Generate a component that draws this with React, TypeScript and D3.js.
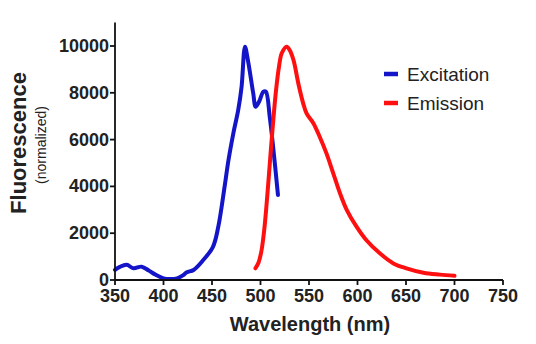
import React from "react";
import * as d3 from "d3";

const excitationNm = [350, 355, 362, 369, 377.5, 385, 392, 400, 407, 414, 420, 424, 431, 441, 451, 456.5, 463, 467, 472, 477, 480.5, 484, 487, 492.5, 495, 498.5, 503, 505.5, 509.5, 513, 518];
const excitationVal = [430, 560, 650, 500, 570, 400, 220, 70, 40, 70, 200, 330, 430, 855, 1420, 2280, 3990, 5130, 6270, 7260, 8260, 9970, 9400, 7980, 7400, 7620, 8050, 8050, 6980, 5700, 3630];

const emissionNm = [494.8, 498, 501, 504, 507, 510, 513, 516, 519, 522, 527, 530, 534, 539, 544, 547.5, 554.5, 561, 568, 575, 582, 589, 599, 609, 623, 637, 650.5, 668, 685, 700];
const emissionVal = [500, 750, 1250, 2200, 3600, 5200, 6750, 8100, 9100, 9700, 9970, 9830, 9400, 8400, 7550, 7120, 6700, 6120, 5410, 4560, 3700, 2990, 2280, 1710, 1140, 710, 500, 310, 230, 180];

const xTicks = [350, 400, 450, 500, 550, 600, 650, 700, 750];
const yTicks = [0, 2000, 4000, 6000, 8000, 10000];
const legendLabels = ["Excitation", "Emission"];
const seriesColors = ["#1414c8", "#ff1010"];

const W = 536;
const H = 344;
const FONT = "'Liberation Sans', Arial, Helvetica, sans-serif";

export default function App() {
  const x = d3.scaleLinear().domain([350, 750]).range([115, 503]);
  const y = d3.scaleLinear().domain([0, 11000]).range([280, 22.6]);

  const line = d3
    .line<[number, number]>()
    .x((d) => x(d[0]))
    .y((d) => y(d[1]))
    .curve(d3.curveCatmullRom.alpha(0.5));

  const exData: [number, number][] = excitationNm.map((n, i) => [n, excitationVal[i]]);
  const emData: [number, number][] = emissionNm.map((n, i) => [n, emissionVal[i]]);

  return (
    <svg
      width={W}
      height={H}
      style={{ position: "absolute", left: 0, top: 0, background: "#fff" }}
      fontFamily={FONT}
    >
      <rect x={0} y={0} width={W} height={H} fill="#fff" />
      {/* series */}
      <path d={line(exData) || ""} fill="none" stroke={seriesColors[0]} strokeWidth={4} strokeLinejoin="round" strokeLinecap="round" />
      <path d={line(emData) || ""} fill="none" stroke={seriesColors[1]} strokeWidth={4} strokeLinejoin="round" strokeLinecap="round" />

      {/* axes */}
      <line x1={x(350)} x2={x(750)} y1={y(0)} y2={y(0)} stroke="#111" strokeWidth={1.8} />
      <line x1={x(350)} x2={x(350)} y1={y(0)} y2={y(11000)} stroke="#111" strokeWidth={1.8} />
      {xTicks.map((t) => (
        <g key={"x" + t}>
          <line x1={x(t)} x2={x(t)} y1={y(0)} y2={y(0) + 5} stroke="#111" strokeWidth={1.8} />
          <text x={x(t)} y={302} textAnchor="middle" fontSize={18} fontWeight="bold" fill="#222">
            {t}
          </text>
        </g>
      ))}
      {yTicks.map((t) => (
        <g key={"y" + t}>
          <line x1={x(350) - 5} x2={x(350)} y1={y(t)} y2={y(t)} stroke="#111" strokeWidth={1.8} />
          <text x={x(350) - 6} y={y(t) + 6} textAnchor="end" fontSize={18} fontWeight="bold" fill="#222">
            {t}
          </text>
        </g>
      ))}

      {/* axis titles */}
      <text x={310} y={331} textAnchor="middle" fontSize={20} fontWeight="bold" fill="#222">
        Wavelength (nm)
      </text>
      <text transform="translate(26,143) rotate(-90)" textAnchor="middle" fontSize={22} fontWeight="bold" fill="#222">
        Fluorescence
      </text>
      <text transform="translate(46,145) rotate(-90)" textAnchor="middle" fontSize={14} fill="#222">
        (normalized)
      </text>

      {/* legend */}
      {legendLabels.map((l, i) => (
        <g key={l}>
          <line x1={384} x2={398} y1={74 + i * 29} y2={74 + i * 29} stroke={seriesColors[i]} strokeWidth={4.5} />
          <text x={407} y={81 + i * 29} fontSize={19} fill="#222">
            {l}
          </text>
        </g>
      ))}
    </svg>
  );
}
